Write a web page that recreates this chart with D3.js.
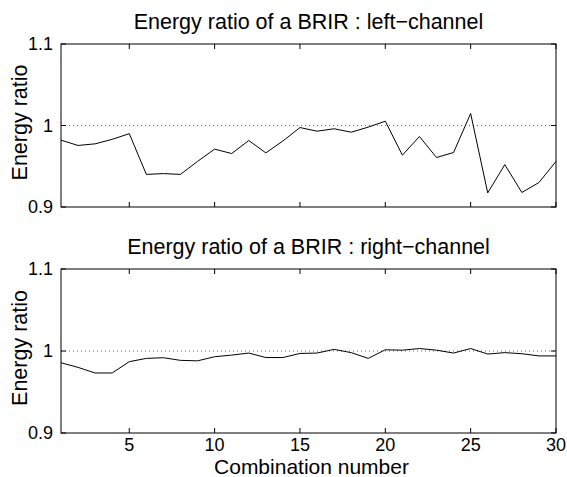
<!DOCTYPE html>
<html>
<head>
<meta charset="utf-8">
<script src="https://cdn.jsdelivr.net/npm/d3@7"></script>
<style>
  body { margin: 0; background: #fff; }
  svg { display: block; font-family: "Liberation Sans", Arial, sans-serif; }
</style>
</head>
<body>
<svg id="chart" width="567" height="477"></svg>
<script>
// combination index 1..30
const combos = d3.range(1, 31);

const leftChannel = [
  0.982, 0.9755, 0.9775, 0.983, 0.990, 0.940, 0.941, 0.940, 0.956, 0.971,
  0.9656, 0.9816, 0.9664, 0.981, 0.9975, 0.993, 0.996, 0.9918, 0.998, 1.0053,
  0.9636, 0.9865, 0.9607, 0.9669, 1.0147, 0.9173, 0.952, 0.9178, 0.930, 0.956
];

const rightChannel = [
  0.9857, 0.980, 0.9732, 0.9732, 0.987, 0.991, 0.9918, 0.9886, 0.988, 0.993,
  0.995, 0.9975, 0.992, 0.992, 0.997, 0.9975, 1.002, 0.998, 0.991, 1.0015,
  1.001, 1.003, 1.001, 0.9975, 1.003, 0.9963, 0.998, 0.9967, 0.994, 0.994
];

const xTicks = [5, 10, 15, 20, 25, 30];
const yTicks = [0.9, 1, 1.1];

const svg = d3.select("#chart");

const left = 61, right = 556;
const TICK = 5;
const LABEL_SIZE = 21.5;
const TICK_SIZE = 18;

const x = d3.scaleLinear().domain([1, 30]).range([left, right]);

function drawPanel(values, top, bottom, title, showXLabels) {
  const y = d3.scaleLinear().domain([0.9, 1.1]).range([bottom, top]);
  const g = svg.append("g");

  // reference line at 1
  g.append("line")
      .attr("x1", left).attr("x2", right)
      .attr("y1", y(1)).attr("y2", y(1))
      .attr("stroke", "#666")
      .attr("stroke-width", 1)
      .attr("stroke-dasharray", "1,3");

  // data line
  const line = d3.line()
      .x((d, i) => x(combos[i]))
      .y(d => y(d));

  g.append("path")
      .datum(values)
      .attr("fill", "none")
      .attr("stroke", "#000")
      .attr("stroke-width", 1)
      .attr("d", line);

  // box
  g.append("rect")
      .attr("x", left).attr("y", top)
      .attr("width", right - left).attr("height", bottom - top)
      .attr("fill", "none")
      .attr("stroke", "#000")
      .attr("stroke-width", 1);

  // ticks, inward on all four sides
  const tk = g.append("g").attr("stroke", "#000").attr("stroke-width", 1);
  xTicks.forEach(t => {
    tk.append("line").attr("x1", x(t)).attr("x2", x(t)).attr("y1", bottom).attr("y2", bottom - TICK);
    tk.append("line").attr("x1", x(t)).attr("x2", x(t)).attr("y1", top).attr("y2", top + TICK);
  });
  yTicks.forEach(t => {
    tk.append("line").attr("x1", left).attr("x2", left + TICK).attr("y1", y(t)).attr("y2", y(t));
    tk.append("line").attr("x1", right).attr("x2", right - TICK).attr("y1", y(t)).attr("y2", y(t));
  });

  // y tick labels
  g.selectAll(".ylab")
    .data(yTicks)
    .join("text")
      .attr("x", left - 8)
      .attr("y", d => y(d))
      .attr("dy", "0.35em")
      .attr("text-anchor", "end")
      .attr("font-size", TICK_SIZE)
      .text(d => d3.format("")(d));

  if (showXLabels) {
    g.selectAll(".xlab")
      .data(xTicks)
      .join("text")
        .attr("x", d => x(d))
        .attr("y", bottom + 18)
        .attr("text-anchor", "middle")
        .attr("font-size", TICK_SIZE)
        .text(d => d);
  }

  // title
  g.append("text")
      .attr("x", (left + right) / 2)
      .attr("y", top - 15.5)
      .attr("text-anchor", "middle")
      .attr("font-size", LABEL_SIZE)
      .text(title);

  // y label
  g.append("text")
      .attr("transform", `translate(27,${(top + bottom) / 2 - 3}) rotate(-90)`)
      .attr("text-anchor", "middle")
      .attr("font-size", LABEL_SIZE)
      .text("Energy ratio");
}

drawPanel(leftChannel, 44, 207, "Energy ratio of a BRIR : left\u2212channel", false);
drawPanel(rightChannel, 269, 433, "Energy ratio of a BRIR : right\u2212channel", true);

svg.append("text")
    .attr("x", (left + right) / 2 + 3)
    .attr("y", 473.5)
    .attr("text-anchor", "middle")
    .attr("font-size", 21)
    .text("Combination number");
</script>
</body>
</html>
